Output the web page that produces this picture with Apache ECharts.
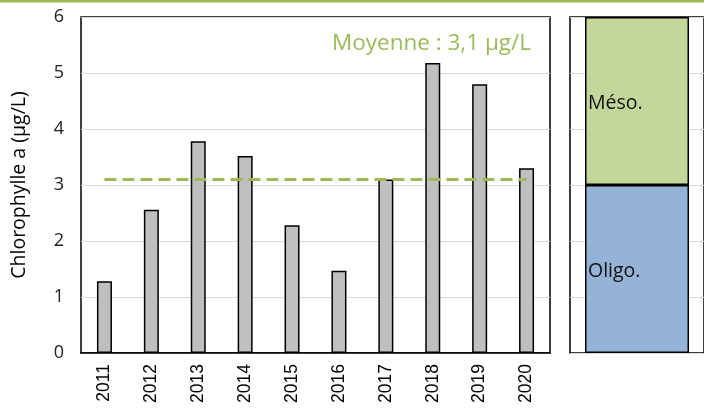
<!DOCTYPE html>
<html><head><meta charset="utf-8">
<script src="https://cdn.jsdelivr.net/npm/echarts@6/dist/echarts.min.js"></script>
<style>html,body{margin:0;padding:0;background:#fff}#c{width:704px;height:408px}</style>
</head><body><div id="c"></div>
<script>
const years = ['2011','2012','2013','2014','2015','2016','2017','2018','2019','2020'];
const chloro = [1.28, 2.56, 3.78, 3.52, 2.28, 1.47, 3.1, 5.18, 4.8, 3.3];
const meanValue = 3.1;
const meanLabel = 'Moyenne : 3,1 µg/L';
const yTicks = [0, 1, 2, 3, 4, 5, 6];
const classes = ['Oligo.', 'Méso.'];
const classSpans = [3, 3];

const font = 'Open Sans';
const chart = echarts.init(document.getElementById('c'));
chart.setOption({
  animation: false,
  textStyle: {fontFamily: font},
  graphic: [
    {type: 'rect', shape: {x: 0, y: 0, width: 704, height: 2.5}, style: {fill: '#9BBB59'}}
  ],
  grid: [
    {left: 81, top: 17, width: 469, height: 336, show: true, borderColor: '#000', borderWidth: 1.5, backgroundColor: 'transparent'},
    {left: 570, top: 17, width: 138, height: 336, show: true, borderColor: '#000', borderWidth: 1.5, backgroundColor: 'transparent'}
  ],
  xAxis: [
    {type: 'category', gridIndex: 0, data: years,
     axisLine: {show: true, lineStyle: {color: '#000', width: 1.5}}, axisTick: {show: false},
     axisLabel: {rotate: 90, color: '#000', fontSize: 17.5, margin: 11, fontFamily: 'Liberation Sans'}},
    {type: 'category', gridIndex: 1, data: [''],
     axisLine: {show: false}, axisTick: {show: false}, axisLabel: {show: false}}
  ],
  yAxis: [
    {type: 'value', gridIndex: 0, min: yTicks[0], max: yTicks[yTicks.length-1], interval: 1,
     name: 'Chlorophylle a (µg/L)', nameLocation: 'middle', nameGap: 52, nameRotate: 90,
     nameTextStyle: {color: '#000', fontSize: 19.5, fontFamily: font},
     axisLine: {show: false}, axisTick: {show: false},
     axisLabel: {color: '#222', fontSize: 18, margin: 17, fontFamily: font},
     splitLine: {lineStyle: {color: '#D9D9D9', width: 1.2}}},
    {type: 'value', gridIndex: 1, min: 0, max: 6, interval: 1,
     axisLine: {show: false}, axisTick: {show: false}, axisLabel: {show: false},
     splitLine: {lineStyle: {color: '#D9D9D9', width: 1.2}}}
  ],
  series: [
    {type: 'bar', xAxisIndex: 0, yAxisIndex: 0, data: chloro, barWidth: 15,
     itemStyle: {color: '#BFBFBF', borderColor: '#000', borderWidth: 1.5},
     markLine: {symbol: 'none', silent: true, label: {show: false},
       lineStyle: {color: '#9BBB59', type: [12, 6], width: 3},
       data: [[{coord: [years[0], meanValue]}, {coord: [years[years.length-1], meanValue]}]]}
    },
    {type: 'bar', xAxisIndex: 1, yAxisIndex: 1, stack: 'c', data: [classSpans[0]], barWidth: 104,
     itemStyle: {color: '#95B3D7', borderColor: '#000', borderWidth: 1.5},
     label: {show: true, position: 'insideLeft', formatter: classes[0], color: '#111', fontSize: 19.5, fontFamily: font, offset: [-2, 2]}},
    {type: 'bar', xAxisIndex: 1, yAxisIndex: 1, stack: 'c', data: [classSpans[1]], barWidth: 104,
     itemStyle: {color: '#C4D79B', borderColor: '#000', borderWidth: 1.5},
     label: {show: true, position: 'insideLeft', formatter: classes[1], color: '#111', fontSize: 19.5, fontFamily: font, offset: [-2, 2]}}
  ],
  title: {text: meanLabel, right: 704 - 536, top: 27,
    textStyle: {color: '#9BBB59', fontSize: 22.5, fontWeight: 'normal', fontFamily: font}}
});
</script></body></html>
